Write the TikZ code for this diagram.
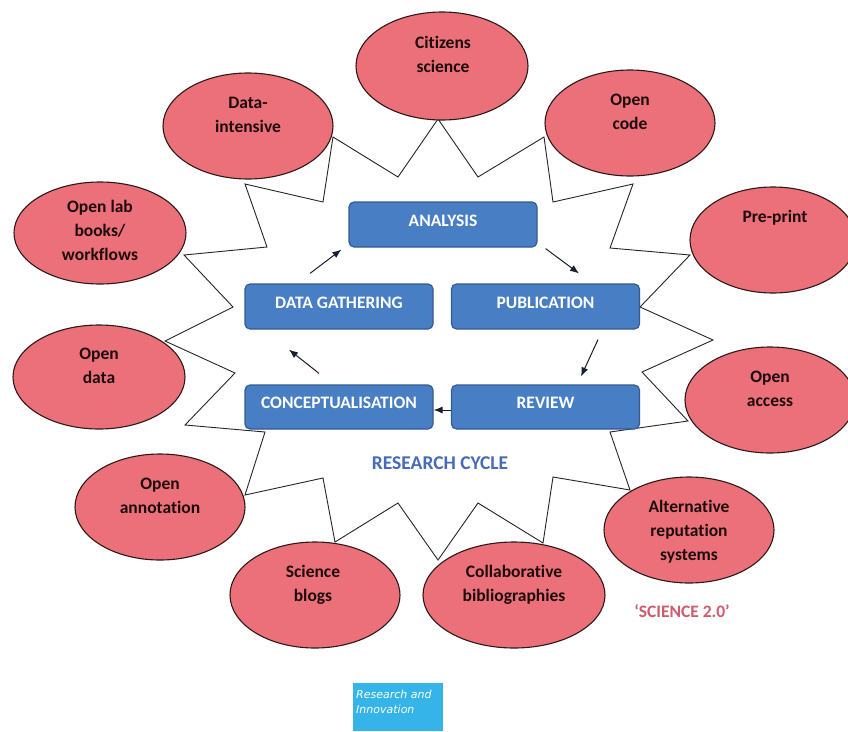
\documentclass[tikz,border=0pt]{standalone}
\usepackage{fontspec}
\setmainfont{Carlito}[Ligatures=NoCommon]
\newfontfamily\verd{DejaVu Sans}
\usetikzlibrary{shapes.geometric,arrows.meta}
\definecolor{ellred}{RGB}{236,112,121}
\definecolor{ellline}{RGB}{45,25,25}
\definecolor{etext}{RGB}{30,12,12}
\definecolor{boxblue}{RGB}{72,126,196}
\definecolor{boxedge}{RGB}{52,92,145}
\definecolor{cycleblue}{RGB}{72,106,186}
\definecolor{scired}{RGB}{206,92,108}
\definecolor{riblue}{RGB}{52,180,232}
\definecolor{arrcol}{RGB}{25,30,45}
\begin{document}
\begin{tikzpicture}[x=1pt,y=-1pt,
  ell/.style={ellipse, draw=ellline, line width=1.1pt, fill=ellred, inner sep=0pt, minimum width=170pt, minimum height=106pt},
  etxt/.style={align=center, text=etext, font=\fontsize{17.5}{24}\selectfont\bfseries, inner sep=0pt},
  cbox/.style={rectangle, rounded corners=5pt, draw=boxedge, line width=1.2pt, fill=boxblue, minimum width=188pt, minimum height=45pt, inner sep=0pt},
  btxt/.style={anchor=base, text=white, font=\fontsize{17.5}{24}\selectfont\bfseries, inner sep=0pt},
  arr/.style={draw=arrcol, line width=1pt, -{Latex[length=9pt,width=7pt]}},
  starline/.style={draw=black!85, line width=0.9pt, line join=miter}
]
\useasboundingbox (0,0) rectangle (848,731);
\fill[white] (0,0) rectangle (848,731);

% zigzag star outline
\draw[starline] (438,119) -- (478,177) -- (544,137) -- (553,202) -- (633,184) -- (610,248)
  -- (690,255) -- (640,307) -- (713,340) -- (642,372) -- (688,421) -- (610,432)
  -- (630,490) -- (553,477) -- (543,543) -- (478,503) -- (438,560) -- (398,503)
  -- (335,542) -- (323,478) -- (245,495) -- (265,432) -- (185,425) -- (235,373)
  -- (165,341) -- (233,307) -- (184,255) -- (267,247) -- (245,184) -- (323,202)
  -- (333,137) -- (398,177) -- cycle;

% ellipses
\node[ell, minimum width=172pt, minimum height=108pt] (cit) at (442,66) {};
\node[ell] (dat) at (248,126) {};
\node[ell] (ocode) at (630,123) {};
\node[ell, minimum width=172pt, minimum height=102pt] (olab) at (100,233) {};
\node[ell, minimum width=166pt] (pre) at (773,240) {};
\node[ell, minimum width=172pt, minimum height=104pt] (odata) at (99,377) {};
\node[ell] (oacc) at (770,400) {};
\node[ell] (oann) at (160,507) {};
\node[ell] (sblog) at (315,595) {};
\node[ell, minimum width=182pt] (collab) at (514,595) {};
\node[ell] (altrep) at (689,530) {};

\node[etxt] (tcit) at (443,56) {\strut Citizens\\\strut science};
\node[etxt] (tdat) at (248,116) {\strut Data-\\\strut intensive};
\node[etxt] (tocode) at (630,113) {\strut Open\\\strut code};
\node[etxt] (tolab) at (100,232) {\strut Open lab\\\strut books/\\\strut workflows};
\node[etxt] (tpre) at (775,218) {\strut Pre-print};
\node[etxt] (todata) at (99,367) {\strut Open\\\strut data};
\node[etxt] (toacc) at (770,390) {\strut Open\\\strut access};
\node[etxt] (toann) at (160,497) {\strut Open\\\strut annotation};
\node[etxt] (tsblog) at (313,585) {\strut Science\\\strut blogs};
\node[etxt] (tcollab) at (514,585) {\strut Collaborative\\\strut bibliographies};
\node[etxt] (taltrep) at (689,532) {\strut Alternative\\\strut reputation\\\strut systems};

% research cycle boxes
\node[cbox] (ana) at (443,224.5) {};
\node[cbox] (dg) at (339,306.5) {};
\node[cbox] (pub) at (545.5,306.5) {};
\node[cbox, minimum height=44pt] (con) at (339,407) {};
\node[cbox, minimum height=44pt] (rev) at (545.5,407) {};

\node[btxt] (tana) at ([yshift=-2pt]ana.center) {ANALYSIS};
\node[btxt] (tdg) at ([yshift=-2pt]dg.center) {DATA GATHERING};
\node[btxt] (tpub) at ([yshift=-2pt]pub.center) {PUBLICATION};
\node[btxt] (tcon) at ([yshift=-1.5pt]con.center) {CONCEPTUALISATION};
\node[btxt] (trev) at ([yshift=-1.5pt]rev.center) {REVIEW};

% arrows
\draw[arr] ([shift={(-29,-10)}]dg.north) -- ([shift={(-7,2)}]ana.south west);
\draw[arr] ([shift={(8,1)}]ana.south east) -- ([shift={(33.5,-10)}]pub.north);
\draw[arr] ([shift={(52.5,10)}]pub.south) -- ([shift={(35.5,-8)}]rev.north);
\draw[arr] ([shift={(0,3)}]rev.west) -- ([shift={(0,3)}]con.east);
\draw[arr] ([shift={(-20,-11)}]con.north) -- ([shift={(-50,20)}]dg.south);

% captions
\node[anchor=base, text=cycleblue, font=\fontsize{19.5}{24}\selectfont\bfseries, inner sep=0pt] (cycle) at (440,469) {RESEARCH CYCLE};
\node[anchor=base, text=scired, font=\fontsize{17.5}{24}\selectfont\bfseries, inner sep=0pt] (sci) at (682,617) {‘SCIENCE 2.0’};

% research and innovation tag
\node[rectangle, fill=riblue, minimum width=90pt, minimum height=48pt, inner sep=0pt, anchor=north west] (ribox) at (353,683) {};
\node[anchor=north west, align=left, text=white, font=\verd\itshape\fontsize{11}{14.5}\selectfont, inner sep=0pt] (ritxt) at (356,690) {Research and\\Innovation};
\end{tikzpicture}
\end{document}
